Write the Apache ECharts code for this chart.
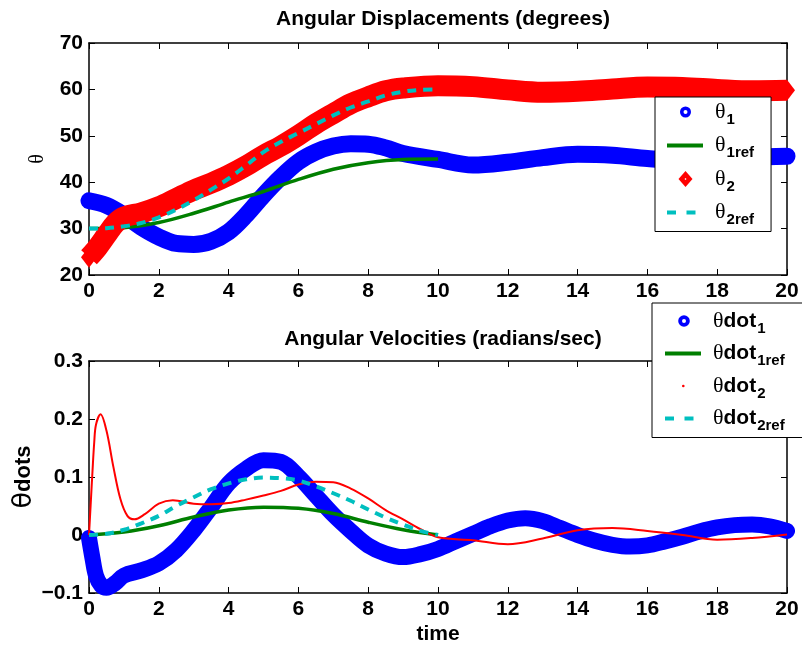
<!DOCTYPE html>
<html><head><meta charset="utf-8">
<script src="https://cdn.jsdelivr.net/npm/echarts@6/dist/echarts.min.js"></script>
<style>html,body{margin:0;padding:0;background:#fff}#c{width:802px;height:649px}</style>
</head><body><div id="c"></div>
<script>
// ---------- data ----------
const xTicks = [0, 2, 4, 6, 8, 10, 12, 14, 16, 18, 20];
const topYTicks = [20, 30, 40, 50, 60, 70];
const botYTicks = [-0.1, 0, 0.1, 0.2, 0.3];

const tTheta1 = [0,0.5,1,1.5,2,2.5,3,3.5,4,4.5,5,5.5,6,6.5,7,7.5,8,8.5,9,10,11,12,13,14,15,16,17,18,19,20];
const theta1  = [36.0,35.0,32.9,30.3,28.2,26.8,26.6,27.3,29.3,32.9,37.2,41.1,44.4,46.5,47.8,48.3,48.2,47.4,46.2,44.9,43.7,44.3,45.3,46.0,45.8,45.1,44.7,44.9,45.4,45.6];

const tTheta1ref = [0,1,2,3,4,5,6,7,8,9,10];
const theta1ref  = [30.0,30.2,31.3,33.3,35.7,38.0,40.6,42.8,44.2,44.9,45.0];

const tTheta2 = [0,0.25,0.5,0.75,1,1.5,2,2.5,3,3.5,4,4.5,5,5.5,6,6.5,7,7.5,8,8.5,9,10,11,12,13,14,15,16,17,18,19,20];
const theta2  = [23.8,26.0,28.6,31.1,32.5,33.4,34.7,36.5,38.3,39.8,41.5,43.5,45.8,47.8,50.1,52.6,54.8,56.9,58.4,59.7,60.3,60.8,60.6,59.9,59.4,59.6,60.1,60.5,60.4,60.0,59.7,59.8];

const tTheta2ref = [0,0.5,1,1.5,2,2.5,3,3.5,4,4.5,5,5.5,6,6.5,7,7.5,8,8.5,9,9.5,10];
const theta2ref  = [30.0,30.1,30.5,31.2,32.4,34.1,36.1,38.4,40.8,43.6,46.5,48.7,50.6,52.5,54.4,56.1,57.4,58.7,59.5,59.9,60.0];

const tDot1 = [0,0.1,0.2,0.35,0.5,0.75,1,1.5,2,2.5,3,3.5,4,4.5,5,5.5,6,6.5,7,7.5,8,8.5,9,9.5,10,10.5,11,11.5,12,12.5,13,13.5,14,14.5,15,15.5,16,16.5,17,17.5,18,18.5,19,19.5,20];
const thetaDot1 = [-0.005,-0.04,-0.07,-0.087,-0.091,-0.083,-0.07,-0.061,-0.049,-0.026,0.008,0.048,0.089,0.114,0.129,0.126,0.101,0.068,0.035,0.007,-0.018,-0.032,-0.038,-0.033,-0.024,-0.011,0.002,0.015,0.025,0.029,0.024,0.012,0.0,-0.01,-0.017,-0.02,-0.018,-0.011,-0.003,0.006,0.013,0.017,0.018,0.015,0.007];

const tDot1ref = [0,1,2,3,4,5,6,7,8,9,10];
const thetaDot1ref = [0,0.005,0.016,0.031,0.043,0.048,0.046,0.037,0.022,0.009,0.0];

const tDot2 = [0,0.05,0.1,0.15,0.2,0.33,0.5,0.7,0.9,1.1,1.3,1.6,2,2.4,3,3.5,4,4.5,5,5.5,6,6.5,7,7.5,8,8.5,9,9.5,10,11,12,13,14,15,16,17,18,19,20];
const thetaDot2 = [0,0.055,0.11,0.16,0.19,0.208,0.18,0.117,0.062,0.033,0.027,0.036,0.054,0.06,0.054,0.053,0.055,0.061,0.068,0.076,0.087,0.092,0.091,0.08,0.063,0.043,0.027,0.01,-0.004,-0.009,-0.016,-0.006,0.008,0.012,0.007,0.0,-0.008,-0.005,0.001];

const tDot2ref = [0,0.5,1,1.5,2,2.5,3,3.5,4,4.5,5,5.5,6,6.5,7,7.5,8,8.5,9,9.5,10];
const thetaDot2ref = [0,0.002,0.009,0.02,0.033,0.05,0.065,0.079,0.089,0.096,0.099,0.098,0.094,0.084,0.072,0.059,0.044,0.03,0.018,0.007,0.0];

const topTitle = 'Angular Displacements (degrees)';
const botTitle = 'Angular Velocities (radians/sec)';
const topNames = ['θ1', 'θ1ref', 'θ2', 'θ2ref'];
const botNames = ['θdot1', 'θdot1ref', 'θdot2', 'θdot2ref'];

// ---------- styling ----------
const SANS = 'Liberation Sans, Arial, Helvetica, sans-serif';
const SERIF = 'Liberation Serif, Times New Roman, serif';
const BLUE = '#0000ff', GREEN = '#007f00', RED = '#ff0000', CYAN = '#00bfbf';
const zip = (t, v) => t.map((x, i) => [x, v[i]]);

const GL = 89, GW = 698, GH = 232;
const grids = [
  { left: GL, top: 43, width: GW, height: GH, outerBoundsMode: 'none', containLabel: false },
  { left: GL, top: 361, width: GW, height: GH, outerBoundsMode: 'none', containLabel: false }
];

function xAxis(gi, pos, showLabels, name) {
  return {
    type: 'value', gridIndex: gi, position: pos, min: 0, max: 20, interval: 2,
    axisLine: { show: true, onZero: false, lineStyle: { color: '#000', width: 1.5 } },
    axisTick: { show: true, inside: true, length: 6, lineStyle: { color: '#000', width: 1 } },
    axisLabel: { show: showLabels, color: '#000', fontSize: 21, fontWeight: 'bold', fontFamily: SANS, margin: 6,
      formatter: v => xTicks.includes(v) ? String(v) : '' },
    splitLine: { show: false },
    name: name || '', nameLocation: 'middle', nameGap: 31, nameMoveOverlap: false,
    nameTextStyle: { color: '#000', fontSize: 21, fontWeight: 'bold', fontFamily: SANS }
  };
}
function yAxis(gi, pos, showLabels, ticks, name, nameStyle, nameGap) {
  const iv = +(ticks[1] - ticks[0]).toFixed(6);
  return {
    type: 'value', gridIndex: gi, position: pos, min: ticks[0], max: ticks[ticks.length - 1], interval: iv,
    axisLine: { show: true, onZero: false, lineStyle: { color: '#000', width: 1.5 } },
    axisTick: { show: true, inside: true, length: 6, lineStyle: { color: '#000', width: 1 } },
    axisLabel: { show: showLabels, color: '#000', fontSize: 21, fontWeight: 'bold', fontFamily: SANS, margin: 6,
      formatter: v => { const r = Math.round(v * 1000) / 1000; if (r === 0) return '0'; const s = String(r); return r < 0 ? '\u2212' + s.slice(1) : s; } },
    splitLine: { show: false },
    name: name || '', nameLocation: 'middle', nameRotate: 90, nameGap: nameGap || 40, nameMoveOverlap: false,
    nameTextStyle: nameStyle || {}
  };
}

// legend icons (frame 50 x 20, invisible anchor specks at the corners)
const A = 'M0,0 L0.01,0 L0,0.01 Z M50,20 L49.99,20 L50,19.99 Z ';
function ring(cx, r1, r2) {
  return 'path://' + A +
    `M${cx - r1},10 A${r1},${r1} 0 1,1 ${cx + r1},10 A${r1},${r1} 0 1,1 ${cx - r1},10 Z ` +
    `M${cx - r2},10 A${r2},${r2} 0 1,0 ${cx + r2},10 A${r2},${r2} 0 1,0 ${cx - r2},10 Z`;
}
const ICON_LINE = 'path://' + A + 'M7,8 L43,8 L43,12 L7,12 Z';
const ICON_DASH = 'path://' + A + 'M7,8 L16,8 L16,12 L7,12 Z M26.5,8 L35.5,8 L35.5,12 L26.5,12 Z';
const ICON_DIAMOND = 'path://' + A + 'M25.5,2 L32.5,10 L25.5,18 L18.5,10 Z M25.5,9 L24.5,10 L25.5,11 L26.5,10 Z';
const ICON_DOT = 'path://' + A + 'M24,10 A1.3,1.3 0 1,1 26.6,10 A1.3,1.3 0 1,1 24,10 Z';

const rich = {
  th: { fontFamily: SERIF, fontSize: 22, color: '#000' },
  d: { fontFamily: SANS, fontWeight: 'bold', fontSize: 21, color: '#000' },
  sub: { fontFamily: SANS, fontWeight: 'bold', fontSize: 15, color: '#000', padding: [15, 0, 0, 1] }
};
function fmt(name) {
  const m = name.match(/^θ(dot)?(.*)$/);
  return '{th|θ}' + (m[1] ? '{d|dot}' : '') + '{sub|' + m[2] + '}';
}
function legend(left, top, names, icons, colors, pad, gap) {
  return {
    orient: 'vertical', left: left, top: top,
    backgroundColor: '#fff', borderColor: '#000', borderWidth: 1, borderRadius: 0,
    padding: pad, itemGap: gap, itemWidth: 50, itemHeight: 20,
    selectedMode: false,
    data: names.map((n, i) => ({ name: n, icon: icons[i], itemStyle: { color: colors[i], borderWidth: 0 } })),
    formatter: fmt,
    textStyle: { rich: rich }
  };
}

const lineCommon = { type: 'line', showSymbol: false, smooth: 0.35, animation: false };

const option = {
  backgroundColor: '#fff',
  animation: false,
  title: [
    { text: topTitle, left: 438, top: 4, textAlign: 'center',
      textStyle: { fontFamily: SANS, fontSize: 21, fontWeight: 'bold', color: '#000' } },
    { text: botTitle, left: 438, top: 324, textAlign: 'center',
      textStyle: { fontFamily: SANS, fontSize: 21, fontWeight: 'bold', color: '#000' } }
  ],
  grid: grids,
  xAxis: [
    xAxis(0, 'bottom', true), xAxis(0, 'top', false),
    xAxis(1, 'bottom', true, 'time'), xAxis(1, 'top', false)
  ],
  yAxis: [
    yAxis(0, 'left', true, topYTicks, 'θ', { color: '#000', fontSize: 20, fontFamily: SERIF }, 41),
    yAxis(0, 'right', false, topYTicks),
    yAxis(1, 'left', true, botYTicks, '{th|θ}{d|dots}', {
      color: '#000', fontSize: 21, fontWeight: 'bold', fontFamily: SANS,
      rich: { th: { fontFamily: 'DejaVu Sans', fontSize: 27, fontWeight: 'normal', color: '#000' },
              d: { fontFamily: SANS, fontSize: 22, fontWeight: 'bold', color: '#000' } } }, 52),
    yAxis(1, 'right', false, botYTicks)
  ],
  legend: [
    legend(655, 97, topNames, [ring(25.5, 5.5, 2), ICON_LINE, ICON_DIAMOND, ICON_DASH], [BLUE, GREEN, RED, CYAN], [4, 17, 4, 5], 7.5),
    legend(652, 303, botNames, [ring(26, 5.8, 2), ICON_LINE, ICON_DOT, ICON_DASH], [BLUE, GREEN, RED, CYAN], [7, 18, 4, 6], 6.5)
  ],
  series: [
    Object.assign({}, lineCommon, { name: topNames[0], xAxisIndex: 0, yAxisIndex: 0, clip: false,
      data: zip(tTheta1, theta1), lineStyle: { color: BLUE, width: 17, cap: 'round', join: 'round' }, itemStyle: { color: BLUE } }),
    Object.assign({}, lineCommon, { name: topNames[1], xAxisIndex: 0, yAxisIndex: 0,
      data: zip(tTheta1ref, theta1ref), lineStyle: { color: GREEN, width: 3.5 }, itemStyle: { color: GREEN } }),
    Object.assign({}, lineCommon, { name: topNames[2], xAxisIndex: 0, yAxisIndex: 0, clip: false, showSymbol: true,
      symbol: 'diamond', symbolSize: [16, 21],
      data: zip(tTheta2, theta2).map((p, i, arr) => (i === 0 || i === arr.length - 1) ? { value: p } : { value: p, symbol: 'none' }),
      lineStyle: { color: RED, width: 21, cap: 'butt', join: 'round' }, itemStyle: { color: RED } }),
    Object.assign({}, lineCommon, { name: topNames[3], xAxisIndex: 0, yAxisIndex: 0,
      data: zip(tTheta2ref, theta2ref), lineStyle: { color: CYAN, width: 4, type: [9, 7] }, itemStyle: { color: CYAN } }),

    Object.assign({}, lineCommon, { name: botNames[0], xAxisIndex: 2, yAxisIndex: 2, clip: false,
      data: zip(tDot1, thetaDot1), lineStyle: { color: BLUE, width: 16, cap: 'round', join: 'round' }, itemStyle: { color: BLUE } }),
    Object.assign({}, lineCommon, { name: botNames[1], xAxisIndex: 2, yAxisIndex: 2,
      data: zip(tDot1ref, thetaDot1ref), lineStyle: { color: GREEN, width: 3.5 }, itemStyle: { color: GREEN } }),
    Object.assign({}, lineCommon, { name: botNames[2], xAxisIndex: 2, yAxisIndex: 2,
      data: zip(tDot2, thetaDot2), lineStyle: { color: RED, width: 2 }, itemStyle: { color: RED } }),
    Object.assign({}, lineCommon, { name: botNames[3], xAxisIndex: 2, yAxisIndex: 2,
      data: zip(tDot2ref, thetaDot2ref), lineStyle: { color: CYAN, width: 4, type: [9, 7] }, itemStyle: { color: CYAN } })
  ]
};

const chart = echarts.init(document.getElementById('c'), null, { renderer: 'canvas' });
chart.setOption(option);
</script>
</body></html>
